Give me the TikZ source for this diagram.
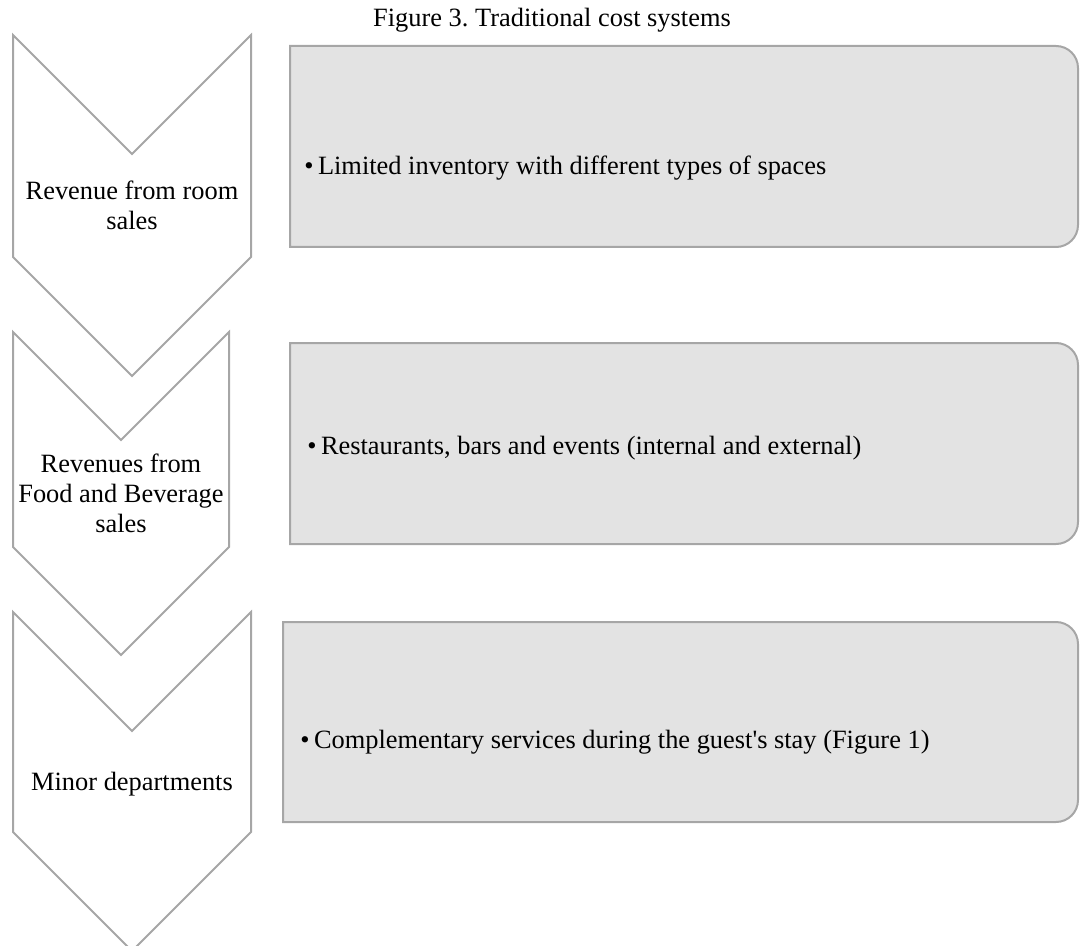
\documentclass[tikz,border=0pt]{standalone}
\usepackage{fontspec}
\setmainfont{Liberation Serif}
\frenchspacing
\definecolor{edgegray}{HTML}{A6A6A6}
\definecolor{panelgray}{HTML}{E3E3E3}
\begin{document}
\begin{tikzpicture}[
	x = 0.5pt, y = -0.5pt, % one unit per pixel, y downwards
	chev/.style = {draw=edgegray, line width=1pt, line join=miter}, % chevron outline
	panel/.style = {draw=edgegray, fill=panelgray, line width=1pt}, % grey text panel
	font=\fontsize{13.2}{15}\selectfont
	]
	
	\useasboundingbox (0,0) rectangle (1080,946);
	
	\node[anchor=base] (fig) at (552,27) {Figure 3. Traditional cost systems};
	
	% chevrons
	\draw[chev] (13,35) -- (132,154) -- (251,35) -- (251,257) -- (132,376) -- (13,257) -- cycle;
	\draw[chev] (13,332) -- (121,440) -- (229,332) -- (229,547) -- (121,655) -- (13,547) -- cycle;
	\draw[chev] (13,612) -- (132,731) -- (251,612) -- (251,832) -- (132,951) -- (13,832) -- cycle;
	
	\node[align=center,anchor=base,inner sep=0pt] (r1) at (132,230) {Revenue from room\\sales};
	\node[align=center,anchor=base,inner sep=0pt] (r2) at (121,532) {Revenues from\\Food and Beverage\\sales};
	\node[align=center,anchor=base,inner sep=0pt] (r3) at (132,790) {Minor departments};
	
	% panels
	\draw[panel] (290,46) -- (1056,46) arc[start angle=90, end angle=0, radius=11pt]
		-- (1078,225) arc[start angle=0, end angle=-90, radius=11pt] -- (290,247) -- cycle;
	\draw[panel] (290,343) -- (1056,343) arc[start angle=90, end angle=0, radius=11pt]
		-- (1078,522) arc[start angle=0, end angle=-90, radius=11pt] -- (290,544) -- cycle;
	\draw[panel] (283,622) -- (1056,622) arc[start angle=90, end angle=0, radius=11pt]
		-- (1078,800) arc[start angle=0, end angle=-90, radius=11pt] -- (283,822) -- cycle;
	
	\node[anchor=base west,inner sep=0pt] (r1e) at (304,175) {•\,Limited inventory with different types of spaces};
	\node[anchor=base west,inner sep=0pt] (r2e) at (307,454) {•\,Restaurants, bars and events (internal and external)};
	\node[anchor=base west,inner sep=0pt] (r3e) at (300,748) {•\,Complementary services during the guest\textquotesingle s stay (Figure 1)};
	
\end{tikzpicture}
\end{document}
